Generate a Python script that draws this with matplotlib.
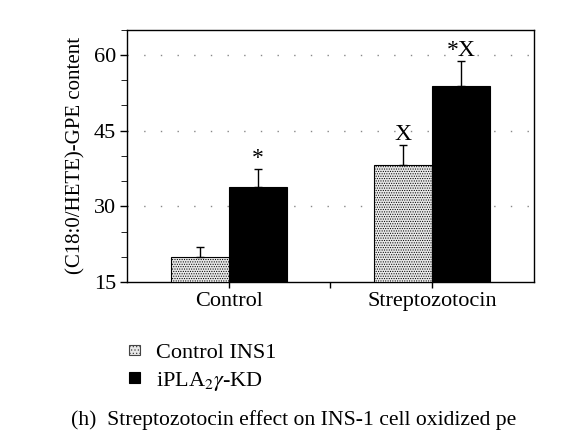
import numpy as np
import matplotlib
matplotlib.use('Agg')
import matplotlib.pyplot as plt
from matplotlib.patches import Patch
from matplotlib.ticker import MultipleLocator

plt.rcParams['font.family'] = ['Liberation Serif', 'DejaVu Serif']
plt.rcParams['mathtext.fontset'] = 'stix'
plt.rcParams['hatch.color'] = '#666666'
plt.rcParams['hatch.linewidth'] = 0.5

# ------------------------------------------------
# DATA
# ------------------------------------------------

groups = ['Control', 'Streptozotocin']
ins1_mean = [20.0, 38.2]
ins1_err = [1.9, 4.0]
kd_mean = [33.9, 53.8]
kd_err = [3.5, 5.0]
ins1_marks = ['', 'X']
kd_marks = ['*', '*X']

# ------------------------------------------------
# FIGURE
# ------------------------------------------------

fig = plt.figure(figsize=(5.7, 4.45), dpi=100)
ax = fig.add_axes([0.2228, 0.3663, 0.714, 0.567])

x = np.arange(len(groups)) * 2.0
w = 0.57

ax.bar(x - w/2, ins1_mean, w, color='#e8e8e8', edgecolor='black', lw=0.8,
       hatch='.......', zorder=3)
ax.bar(x + w/2, kd_mean, w, color='black', edgecolor='black', lw=0.8, zorder=3)

ax.errorbar(x - w/2, ins1_mean, yerr=[np.zeros(2), ins1_err], fmt='none',
            ecolor='black', elinewidth=1, capsize=3, capthick=1, zorder=4)
ax.errorbar(x + w/2, kd_mean, yerr=[np.zeros(2), kd_err], fmt='none',
            ecolor='black', elinewidth=1, capsize=3, capthick=1, zorder=4)

for i in range(len(groups)):
    if ins1_marks[i]:
        ax.annotate(ins1_marks[i], (x[i] - w/2, ins1_mean[i] + ins1_err[i]),
                    xytext=(0, 0), textcoords='offset points',
                    ha='center', va='bottom', fontsize=17)
    if kd_marks[i]:
        ax.annotate(kd_marks[i], (x[i] + w/2, kd_mean[i] + kd_err[i]),
                    xytext=(0, 0), textcoords='offset points',
                    ha='center', va='bottom', fontsize=17)

ax.set_xlim(-1, 3)
ax.set_ylim(15, 65)
ax.set_xticks([0, 1, 2])
ax.set_xticklabels([groups[0], '', groups[1]])
ax.set_yticks([15, 30, 45, 60])
ax.yaxis.set_minor_locator(MultipleLocator(5))
ax.tick_params(axis='both', direction='out', labelsize=16, width=1)
ax.tick_params(axis='y', which='major', length=5, pad=3)
ax.tick_params(axis='y', which='minor', length=4)
ax.tick_params(axis='x', length=4, pad=3)

for y in [30, 45, 60]:
    ax.axhline(y, color='#888888', lw=1, linestyle=(0, (1, 11)), zorder=1)

for s in ax.spines.values():
    s.set_linewidth(1)

ax.set_ylabel('(C18:0/HETE)-GPE content', fontsize=15, labelpad=6)

handles = [
    Patch(facecolor='#e8e8e8', edgecolor='#444444', hatch='.....', lw=0.8),
    Patch(facecolor='black', edgecolor='black', lw=0.8),
]
fig.legend(handles, ['Control INS1', 'iPLA$_2\\gamma$-KD'],
           loc='upper left', bbox_to_anchor=(0.21, 0.247), frameon=False,
           fontsize=16, handlelength=0.5, handleheight=0.35,
           handletextpad=0.75, labelspacing=0.3, borderaxespad=0)

fig.text(0.516, 0.057, '(h)  Streptozotocin effect on INS-1 cell oxidized pe',
         ha='center', va='center', fontsize=15.6)

fig.savefig('out.png', dpi=100)
